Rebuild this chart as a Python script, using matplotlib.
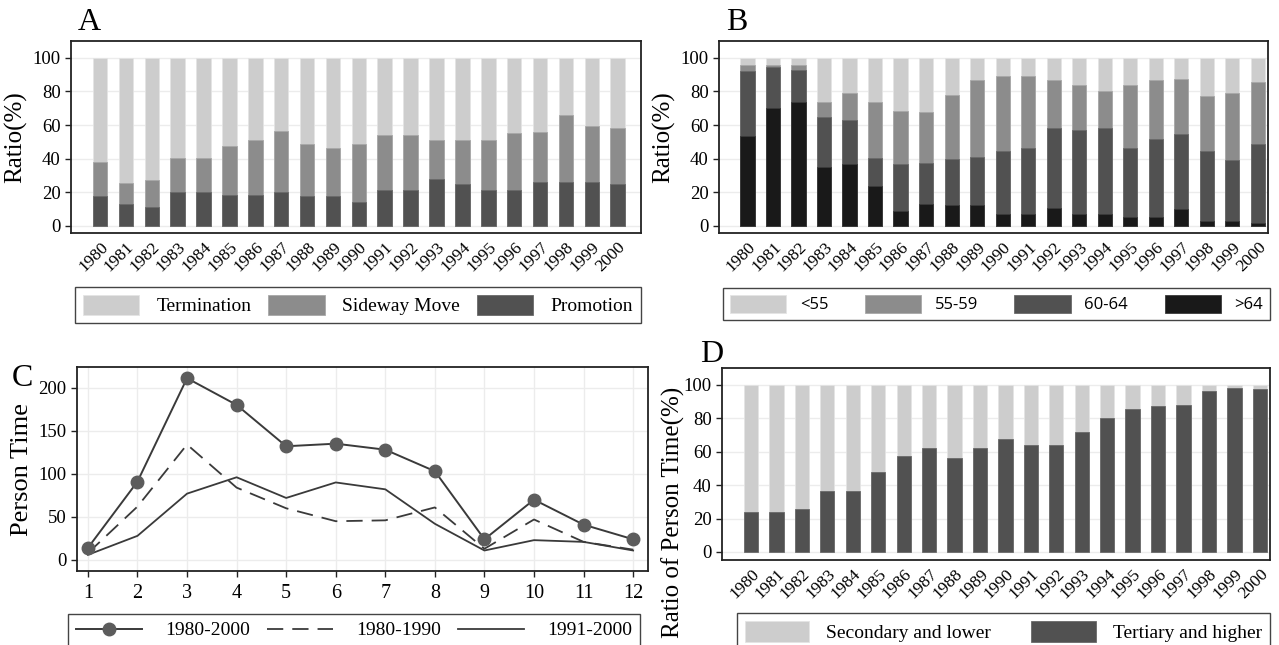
import matplotlib
matplotlib.use("Agg")
import matplotlib.pyplot as plt
import numpy as np

plt.rcParams['font.family'] = ['Liberation Serif', 'DejaVu Serif']

years = [str(y) for y in range(1980, 2001)]

# Panel A (cumulative stacked values, %)
promotion = [17.6, 12.8, 11.0, 20.0, 20.0, 18.2, 18.2, 20.4, 17.8, 17.6, 14.2,
             21.4, 21.4, 28.2, 24.8, 21.4, 21.4, 26.2, 26.4, 26.2, 24.8]
sideway_top = [37.8, 25.6, 27.4, 40.4, 40.4, 47.8, 51.4, 56.4, 48.8, 46.2, 48.8,
               54.2, 54.2, 51.4, 51.4, 51.4, 55.0, 56.0, 66.0, 59.2, 58.0]
termination_top = [100] * 21

# Panel B (cumulative stacked, %)
age_gt64 = [53.5, 70.1, 73.7, 34.9, 36.6, 24.0, 8.7, 12.9, 12.5, 12.3, 6.9,
            6.9, 10.5, 6.9, 6.9, 5.1, 5.1, 9.9, 3.2, 3.2, 1.6]
age_60_64_top = [91.9, 94.3, 92.5, 64.6, 62.8, 40.4, 36.6, 37.2, 39.6, 40.8, 44.6,
                 46.1, 58.4, 56.8, 58.4, 46.1, 51.5, 54.7, 44.6, 39.2, 48.7]
age_55_59_top = [95.6, 95.8, 95.8, 73.7, 79.2, 73.7, 68.1, 67.5, 77.8, 87.1, 88.9,
                 88.9, 87.1, 83.8, 80.2, 83.8, 87.1, 87.5, 77.2, 79.0, 85.5]
age_lt55_top = [100] * 21

# Panel C
c_x = list(range(1, 13))
c_all = [14, 91, 211, 180, 132, 135, 128, 103, 24, 70, 41, 24]
c_8090 = [8, 62, 134, 84, 60, 45, 46, 61, 13, 47, 21, 12]
c_9100 = [6, 28, 77, 96, 72, 90, 82, 42, 11, 23, 21, 11]

# Panel D
tertiary = [23.8, 23.8, 25.5, 36.7, 36.7, 47.9, 57.3, 62.3, 56.1, 62.3, 67.7,
            64.1, 64.1, 71.5, 80.0, 85.4, 87.2, 87.8, 96.4, 98.0, 97.6]
secondary_top = [100] * 21

LIGHT = '#cdcdcd'
MID = '#8c8c8c'
DARK = '#515151'
BLACK = '#191919'
GRID = '#ececec'

W, H = 1279, 645
fig = plt.figure(figsize=(W / 100, H / 100), dpi=100)


def ax_px(l, t, r, b):
    return fig.add_axes([l / W, 1 - b / H, (r - l) / W, (b - t) / H])


def box_px(l, t, r, b):
    return (l / W, 1 - b / H, (r - l) / W, (b - t) / H)


def style_ax(ax):
    for s in ax.spines.values():
        s.set_linewidth(1.3)
        s.set_color('#222222')
    ax.grid(axis='y', color=GRID, lw=1.0, zorder=0)
    ax.set_axisbelow(True)
    ax.tick_params(axis='both', labelsize=13.5, color='#222222', length=4, width=1)


def bar_x_axis(ax):
    x = np.arange(21)
    ax.set_xticks(x)
    ax.set_xticklabels(years, rotation=45, ha='right', rotation_mode='anchor',
                       fontsize=12.5)
    ax.tick_params(axis='x', length=0, pad=4)
    ax.set_yticks([0, 20, 40, 60, 80, 100])
    return x


bw = 0.56
leg_kw = dict(loc='upper left', mode='expand', frameon=True, fancybox=False,
              edgecolor='#444444', framealpha=1, borderaxespad=0)

# ---------- A ----------
axA = ax_px(71, 41, 641, 233)
style_ax(axA)
x = bar_x_axis(axA)
pT = axA.bar(x, termination_top, bw, color=LIGHT, edgecolor='#e4e4e4', lw=0.6, zorder=2)
pS = axA.bar(x, sideway_top, bw, color=MID, edgecolor='#a8a8a8', lw=0.6, zorder=3)
pP = axA.bar(x, promotion, bw, color=DARK, edgecolor='#6a6a6a', lw=0.6, zorder=4)
axA.set_xlim(-1.12, 20.9)
axA.set_ylim(-4.2, 110)
axA.set_ylabel('Ratio(%)', fontsize=18, labelpad=4)
fig.text(78 / W, 1 - 22 / H, 'A', fontsize=23, va='center', ha='left')
fig.legend([pT, pS, pP], ['Termination', 'Sideway Move', 'Promotion'],
           bbox_to_anchor=box_px(75, 287, 641, 320), ncol=3,
           fontsize=14, handlelength=2.9, handleheight=1.2, borderpad=0.4,
           handletextpad=0.9, columnspacing=1.0, **leg_kw)

# ---------- B ----------
axB = ax_px(719, 41, 1268, 233)
style_ax(axB)
x = bar_x_axis(axB)
b1 = axB.bar(x, age_lt55_top, bw, color=LIGHT, edgecolor='#e4e4e4', lw=0.6, zorder=2)
b2 = axB.bar(x, age_55_59_top, bw, color=MID, edgecolor='#a8a8a8', lw=0.6, zorder=3)
b3 = axB.bar(x, age_60_64_top, bw, color=DARK, edgecolor='#6a6a6a', lw=0.6, zorder=4)
b4 = axB.bar(x, age_gt64, bw, color=BLACK, edgecolor='#3a3a3a', lw=0.6, zorder=5)
axB.set_xlim(-1.12, 20.4)
axB.set_ylim(-4.2, 110)
axB.set_ylabel('Ratio(%)', fontsize=18, labelpad=4)
fig.text(726 / W, 1 - 22 / H, 'B', fontsize=23, va='center', ha='left')
fig.legend([b1, b2, b3, b4], ['<55', '55-59', '60-64', '>64'],
           bbox_to_anchor=box_px(723, 288, 1270, 320), ncol=4,
           prop={'family': ['Open Sans', 'DejaVu Sans'], 'size': 12},
           handlelength=3.4, handleheight=1.3, borderpad=0.4,
           handletextpad=0.8, columnspacing=1.0, **leg_kw)

# ---------- C ----------
axC = ax_px(77, 367, 648, 571)
style_ax(axC)
axC.grid(axis='x', color=GRID, lw=1.0, zorder=0)
l1, = axC.plot(c_x, c_all, color='#3a3a3a', lw=1.4, marker='o', ms=9,
               mfc='#5c5c5c', mec='#5c5c5c', zorder=4)
l2, = axC.plot(c_x, c_8090, color='#3a3a3a', lw=1.3, dashes=(9, 5), zorder=3)
l3, = axC.plot(c_x, c_9100, color='#3a3a3a', lw=1.3, zorder=3)
axC.set_xticks(c_x)
axC.set_yticks([0, 50, 100, 150, 200])
axC.set_xlim(0.78, 12.3)
axC.set_ylim(-12.8, 224)
axC.set_ylabel('Person Time', fontsize=19, labelpad=4)
axC.tick_params(axis='x', labelsize=14.5, pad=5)
fig.text(12 / W, 1 - 378 / H, 'C', fontsize=23, va='center', ha='left')
fig.legend([l1, l2, l3], ['1980-2000', '1980-1990', '1991-2000'],
           bbox_to_anchor=box_px(68, 614, 640, 648), ncol=3,
           fontsize=14, handlelength=3.4, borderpad=0.4,
           handletextpad=1.2, columnspacing=1.0, **leg_kw)

# ---------- D ----------
axD = ax_px(722, 368, 1270, 560)
style_ax(axD)
x = bar_x_axis(axD)
d1 = axD.bar(x, secondary_top, bw, color=LIGHT, edgecolor='#e4e4e4', lw=0.6, zorder=2)
d2 = axD.bar(x, tertiary, bw, color=DARK, edgecolor='#6a6a6a', lw=0.6, zorder=3)
axD.set_xlim(-1.14, 20.4)
axD.set_ylim(-4.8, 110)
axD.set_ylabel('Ratio of Person Time(%)', fontsize=18)
axD.yaxis.set_label_coords(-0.068, 0.25)
fig.text(700 / W, 1 - 355 / H, 'D', fontsize=23, va='center', ha='left')
fig.legend([d1, d2], ['Secondary and lower', 'Tertiary and higher'],
           bbox_to_anchor=box_px(737, 613, 1270, 648), ncol=2,
           fontsize=14, handlelength=3.3, handleheight=1.3, borderpad=0.4,
           handletextpad=0.9, columnspacing=1.0, **leg_kw)

fig.savefig('out.png', dpi=100)
